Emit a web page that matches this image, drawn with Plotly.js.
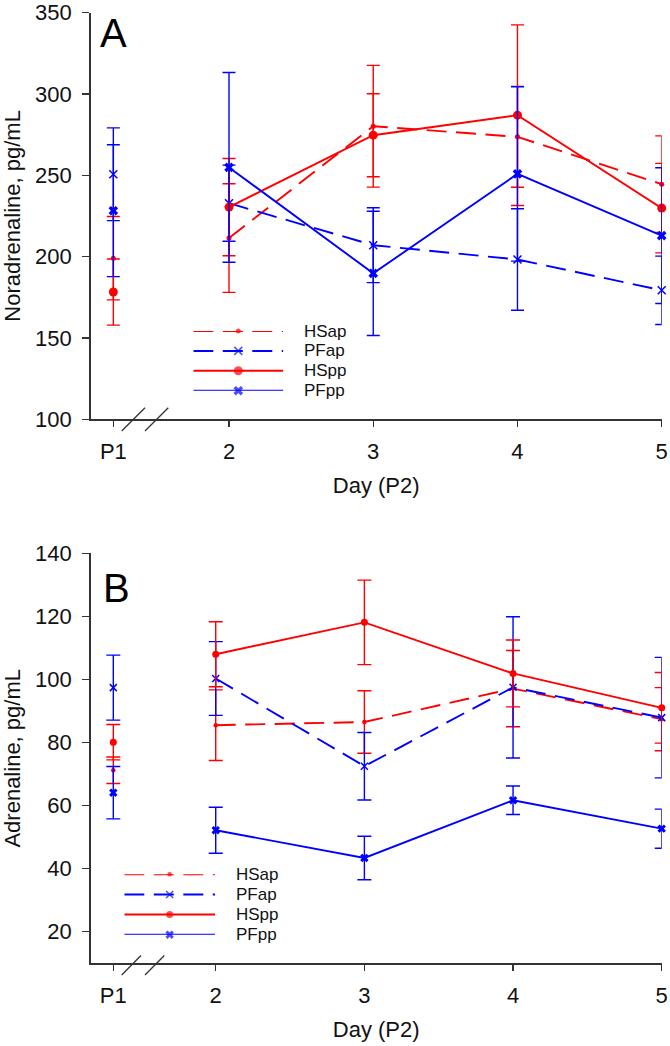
<!DOCTYPE html>
<html>
<head>
<meta charset="utf-8">
<script src="https://cdn.plot.ly/plotly-3.0.1.min.js"></script>
<style>html,body{margin:0;padding:0;background:#fff;}#chart{width:670px;height:1046px;}</style>
</head>
<body>
<div id="chart"></div>
<script>
// ---------- data ----------
const dayLabels = ['P1', '2', '3', '4', '5'];
const seriesNames = ['HSap', 'PFap', 'HSpp', 'PFpp'];

// Panel A: Noradrenaline, pg/mL (mean and error)
const noraHSap = [199.0, 211.4, 280.1, 273.6, 244.5];
const noraHSapErr = [25.6, 33.4, 37.4, 31.0, 29.7];
const noraPFap = [250.6, 232.8, 207.0, 198.2, 179.3];
const noraPFapErr = [28.5, 23.4, 23.0, 31.2, 21.0];
const noraHSpp = [178.2, 230.4, 274.6, 286.9, 229.8];
const noraHSppErr = [20.3, 29.9, 25.5, 55.5, 27.5];
const noraPFpp = [228.2, 254.8, 189.7, 250.8, 212.9];
const noraPFppErr = [40.5, 58.3, 38.2, 53.6, 41.7];

// Panel B: Adrenaline, pg/mL (mean and error)
const adrHSap = [71.2, 85.5, 86.5, 97.1, 87.4];
const adrHSapErr = [4.2, 11.2, 9.9, 12.1, 10.0];
const adrPFap = [97.4, 100.3, 72.5, 97.5, 87.9];
const adrPFapErr = [10.3, 11.7, 10.7, 22.4, 19.1];
const adrHSpp = [80.1, 108.0, 118.1, 101.9, 91.0];
const adrHSppErr = [5.6, 10.3, 13.4, 10.6, 11.2];
const adrPFpp = [64.1, 52.2, 43.4, 61.7, 52.7];
const adrPFppErr = [8.3, 7.3, 6.9, 4.5, 6.2];

// ---------- layout helpers ----------
const W = 670, H = 1046;
const px = x => x / W;
const py = y => 1 - y / H;
const FONT = 'Liberation Sans, Arial, Helvetica, sans-serif';
const RED = 'rgb(255,0,0)', BLUE = 'rgb(0,0,255)';
const AX = '#333333';
const DASH = '20px,9.5px';
const TXT = '#111111';

// axis positions of the day categories (P1 sits left of the axis break)
const xPosA = [1.198, 2, 3, 4, 5];
const xPosB = [1.311, 2, 3, 4, 5];

const styles = [
  {color: RED, dash: DASH, symbol: 'circle', sizeA: 5, sizeB: 4.5, lw: 0},
  {color: BLUE, dash: DASH, symbol: 'x-thin-open', sizeA: 8, sizeB: 7, lw: 1.5},
  {color: RED, dash: 'solid', symbol: 'circle', sizeA: 9, sizeB: 7, lw: 0},
  {color: BLUE, dash: 'solid', symbol: 'x', sizeA: 8.5, sizeB: 7.5, lw: 0}
];

function makeTraces(vals, errs, xpos, xa, ya, sizeKey, capW) {
  const out = [];
  vals.forEach((v, i) => {
    const s = styles[i];
    const marker = {symbol: s.symbol, size: s[sizeKey], color: s.color,
                    line: {color: s.color, width: s.lw}};
    const eb = (arr) => ({type: 'data', array: arr, visible: true, color: s.color,
                          thickness: 1.4, width: capW});
    // P1 (separate point, not connected)
    out.push({x: [xpos[0]], y: [v[0]], xaxis: xa, yaxis: ya, type: 'scatter',
              mode: 'markers', marker: marker, error_y: eb([errs[i][0]]),
              cliponaxis: false, showlegend: false, name: seriesNames[i]});
    // Days 2-5 connected
    out.push({x: xpos.slice(1), y: v.slice(1), xaxis: xa, yaxis: ya, type: 'scatter',
              mode: 'lines+markers', line: {color: s.color, width: 1.9, dash: s.dash},
              marker: marker, error_y: eb(errs[i].slice(1)),
              cliponaxis: false, showlegend: false, name: seriesNames[i]});
  });
  return out;
}

function legendTraces(xa, ya, sizeKey) {
  return styles.map((s, i) => ({
    x: [0, 0.5, 1], y: [i, i, i], xaxis: xa, yaxis: ya, type: 'scatter',
    mode: 'lines+markers', line: {color: s.color, width: 2, dash: s.dash},
    marker: {symbol: s.symbol, size: [0, s[sizeKey], 0], color: s.color,
             line: {color: s.color, width: s.lw}},
    cliponaxis: false, showlegend: false, hoverinfo: 'skip'
  }));
}

const data = [].concat(
  makeTraces([noraHSap, noraPFap, noraHSpp, noraPFpp],
             [noraHSapErr, noraPFapErr, noraHSppErr, noraPFppErr], xPosA, 'x', 'y', 'sizeA', 6.5),
  makeTraces([adrHSap, adrPFap, adrHSpp, adrPFpp],
             [adrHSapErr, adrPFapErr, adrHSppErr, adrPFppErr], xPosB, 'x2', 'y2', 'sizeB', 7),
  legendTraces('x3', 'y3', 'sizeA'),
  legendTraces('x4', 'y4', 'sizeB')
);

function xAxis(domainAnchor, range, tickvals) {
  return {
    domain: [px(90.7), px(661.7)], range: range, anchor: domainAnchor,
    tickmode: 'array', tickvals: tickvals, ticktext: dayLabels,
    ticks: 'outside', ticklen: 6, tickwidth: 1.3, tickcolor: AX,
    showline: true, linecolor: AX, linewidth: 1.5, showgrid: false, zeroline: false,
    tickfont: {family: FONT, size: 22, color: TXT}, ticklabelstandoff: 6,
    ticklabeloverflow: 'allow',
    title: {text: 'Day (P2)', font: {family: FONT, size: 22, color: TXT}, standoff: 14}
  };
}
function yAxis(domain, range, tick0, dtick, title, anchor) {
  return {
    domain: domain, range: range, anchor: anchor, tick0: tick0, dtick: dtick,
    ticks: 'outside', ticklen: 7, tickwidth: 1.3, tickcolor: AX,
    showline: true, linecolor: AX, linewidth: 1.5, showgrid: false, zeroline: false,
    tickfont: {family: FONT, size: 22, color: TXT}, ticklabelstandoff: 6,
    ticklabeloverflow: 'allow',
    title: {text: title, font: {family: FONT, size: 22, color: TXT}, standoff: 8}
  };
}

function legendAnn(xa, ya) {
  return seriesNames.map((n, i) => ({
    text: n, xref: xa, yref: ya, x: 1, y: i, xanchor: 'left', yanchor: 'middle',
    xshift: 19, showarrow: false, font: {family: FONT, size: 17, color: TXT}
  }));
}

function slash(x0, y0, x1, y1) {
  return {type: 'line', xref: 'paper', yref: 'paper', x0: px(x0), y0: py(y0),
          x1: px(x1), y1: py(y1), line: {color: AX, width: 1.3}};
}

const layout = {
  width: W, height: H, margin: {l: 0, r: 0, t: 0, b: 0},
  paper_bgcolor: '#fff', plot_bgcolor: 'rgba(0,0,0,0)',
  font: {family: FONT, color: TXT},
  showlegend: false,
  xaxis: xAxis('y', [1.041, 5], xPosA),
  yaxis: yAxis([py(419.3), py(12.5)], [100, 350], 100, 50, 'Noradrenaline, pg/mL', 'x'),
  xaxis2: xAxis('y2', [1.159, 5], xPosB),
  yaxis2: yAxis([py(963.3), py(553.3)], [10, 140], 20, 20, 'Adrenaline, pg/mL', 'x2'),
  xaxis3: {domain: [px(193.3), px(283.3)], range: [0, 1], visible: false, anchor: 'y3', fixedrange: true},
  yaxis3: {domain: [py(390.7), py(331)], range: [3, 0], visible: false, anchor: 'x3', fixedrange: true},
  xaxis4: {domain: [px(124.3), px(215)], range: [0, 1], visible: false, anchor: 'y4', fixedrange: true},
  yaxis4: {domain: [py(934.7), py(874.3)], range: [3, 0], visible: false, anchor: 'x4', fixedrange: true},
  annotations: [].concat(
    legendAnn('x3', 'y3'),
    legendAnn('x4', 'y4'),
    [
      {text: 'A', xref: 'paper', yref: 'paper', x: px(98), y: py(33), xanchor: 'left', yanchor: 'middle',
       showarrow: false, font: {family: FONT, size: 40, color: '#000'}},
      {text: 'B', xref: 'paper', yref: 'paper', x: px(101), y: py(588), xanchor: 'left', yanchor: 'middle',
       showarrow: false, font: {family: FONT, size: 40, color: '#000'}}
    ]
  ),
  shapes: [
    slash(121.7, 431, 145, 407.7), slash(145, 431, 168.3, 407.7),
    slash(121.7, 975, 141, 955.5), slash(145, 975, 164.3, 955.5)
  ]
};

Plotly.newPlot('chart', data, layout, {displayModeBar: false, staticPlot: true});
</script>
</body>
</html>
